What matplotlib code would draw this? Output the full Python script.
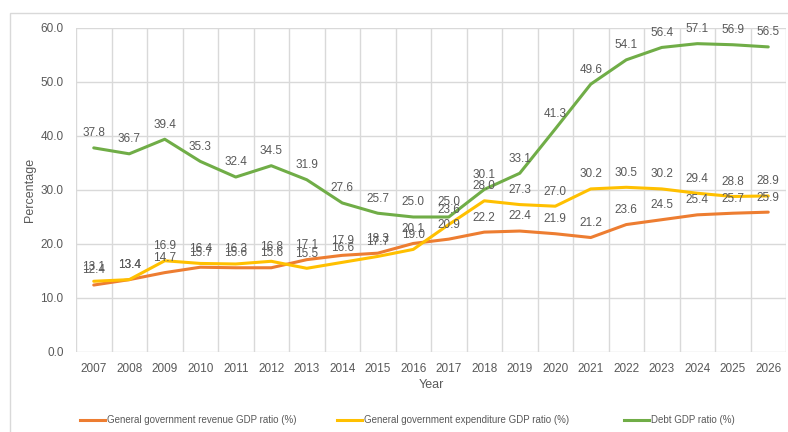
import matplotlib.pyplot as plt
from matplotlib.patches import Rectangle
from matplotlib.lines import Line2D
import numpy as np

years = [str(y) for y in range(2007, 2027)]
revenue = [12.4, 13.4, 14.7, 15.7, 15.6, 15.6, 17.1, 17.9, 18.3, 20.1,
           20.9, 22.2, 22.4, 21.9, 21.2, 23.6, 24.5, 25.4, 25.7, 25.9]
expenditure = [13.1, 13.4, 16.9, 16.4, 16.3, 16.8, 15.5, 16.6, 17.7, 19.0,
               23.6, 28.0, 27.3, 27.0, 30.2, 30.5, 30.2, 29.4, 28.8, 28.9]
debt = [37.8, 36.7, 39.4, 35.3, 32.4, 34.5, 31.9, 27.6, 25.7, 25.0,
        25.0, 30.1, 33.1, 41.3, 49.6, 54.1, 56.4, 57.1, 56.9, 56.5]

series = [
    ('General government revenue GDP ratio (%)', revenue, '#ED7D31'),
    ('General government expenditure GDP ratio (%)', expenditure, '#FFC000'),
    ('Debt GDP ratio (%)', debt, '#70AD47'),
]

plt.rcParams['font.family'] = ['Liberation Sans', 'DejaVu Sans']
text_color = '#595959'

fig = plt.figure(figsize=(7.88, 4.32), dpi=100)
ax = fig.add_axes([76 / 788, 1 - 352 / 432, 710 / 788, 324 / 432])

# light chart-area border
fig.patches.append(Rectangle((10 / 788, -0.1), 1.0, 1 - 13 / 432 + 0.1,
                             transform=fig.transFigure, fill=False,
                             edgecolor='#d9d9d9', linewidth=1))

x = np.arange(len(years))
for name, values, color in series:
    ax.plot(x, values, color=color, linewidth=2.2, label=name, solid_capstyle='round')
    for xi, v in zip(x, values):
        ax.annotate(f'{v:.1f}', (xi, v), xytext=(0, 10.5), textcoords='offset points',
                    ha='center', va='center', fontsize=8.5, color=text_color)

ax.set_xlim(-0.5, len(years) - 0.5)
ax.set_ylim(0, 60)
ax.set_yticks(np.arange(0, 61, 10))
ax.set_yticklabels([f'{t:.1f}' for t in np.arange(0, 61, 10)])
ax.set_xticks(x)
ax.set_xticklabels(years)
ax.set_xticks(np.arange(-0.5, len(years), 1), minor=True)

ax.grid(axis='y', color='#d9d9d9', linewidth=1)
ax.grid(axis='x', which='minor', color='#d9d9d9', linewidth=1)
ax.set_axisbelow(True)
for s in ax.spines.values():
    s.set_visible(False)
ax.tick_params(which='both', length=0)
ax.tick_params(axis='y', pad=9, labelsize=8.5, labelcolor=text_color)
ax.tick_params(axis='x', pad=8, labelsize=8.5, labelcolor=text_color)

ax.set_xlabel('Year', fontsize=9, color=text_color, labelpad=3)
ax.set_ylabel('Percentage', fontsize=9, color=text_color, labelpad=3)

# one legend entry per slot along the bottom
legend_x = [80 / 788, 337 / 788, 624 / 788]
for (name, values, color), lx in zip(series, legend_x):
    handle = Line2D([], [], color=color, linewidth=2.2)
    fig.legend([handle], [name], loc='center left', bbox_to_anchor=(lx, 1 - 420 / 432),
               frameon=False, fontsize=7, labelcolor=text_color, handlelength=2.6,
               handletextpad=0.2, borderpad=0, borderaxespad=0)

fig.savefig('out.png', dpi=100)
